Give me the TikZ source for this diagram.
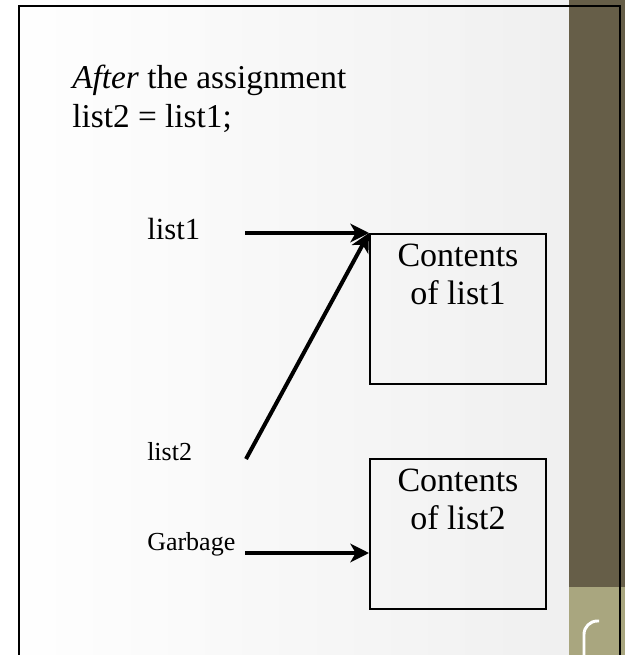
\documentclass[tikz,border=0pt]{standalone}
\usepackage{fontspec}
\setmainfont{Liberation Serif}
\usetikzlibrary{arrows.meta}
\definecolor{olivebar}{HTML}{665E48}
\definecolor{khaki}{HTML}{A9A67F}
\tikzset{
  arr/.style={line width=3pt, -{Stealth[length=14pt, width=14pt, inset=4pt]}},
  membox/.style={draw, line width=1.5pt, inner sep=0pt, minimum width=132pt, minimum height=112.5pt, anchor=north west},
  boxtext/.style={align=center, anchor=north, inner sep=0pt, font=\fontsize{25.5}{28.5}\selectfont},
  biglabel/.style={anchor=base west, inner sep=0pt, font=\fontsize{23}{27}\selectfont},
  smalllabel/.style={anchor=base west, inner sep=0pt, font=\fontsize{19.5}{23}\selectfont},
  titletext/.style={anchor=base west, inner sep=0pt, align=left, font=\fontsize{25}{29.5}\selectfont}
}
\begin{document}
\begin{tikzpicture}[x=0.75pt, y=-0.75pt]
\useasboundingbox (0,0) rectangle (625,655);
% background
\shade[left color=white, right color=black!6] (0,0) rectangle (569,655);
\fill[olivebar] (569,0) rectangle (625,587);
\fill[khaki] (569,587) rectangle (625,655);
\draw[white, line width=2.2pt, rounded corners=10pt] (584,655) -- (584,621) -- (599,621);
% frame
\draw[line width=1.6pt] (19,655) -- (19,6) -- (620,6) -- (620,655);
% title
\node[titletext] (title) at (72,128) {\textit{After} the assignment\\list2 = list1;};
% labels
\node[biglabel] (list1) at (147,240) {list1};
\node[smalllabel] (list2) at (147,460) {list2};
\node[smalllabel] (garbage) at (147,550) {Garbage};
% boxes
\node[membox] (box1) at (369,233) {};
\node[membox] (box2) at (369,458) {};
\node[boxtext] (t1) at ([yshift=-8pt]box1.north) {Contents\\of list1};
\node[boxtext] (t2) at ([yshift=-8pt]box2.north) {Contents\\of list2};
% arrows
\coordinate (a1) at (245,233);
\coordinate (a2) at (246,459);
\coordinate (a3) at (245,553);
\draw[arr] (a1) -- (box1.north west);
\draw[arr] (a2) -- (box1.north west);
\draw[arr] (a3) -- (box2.west |- a3);
\end{tikzpicture}
\end{document}
